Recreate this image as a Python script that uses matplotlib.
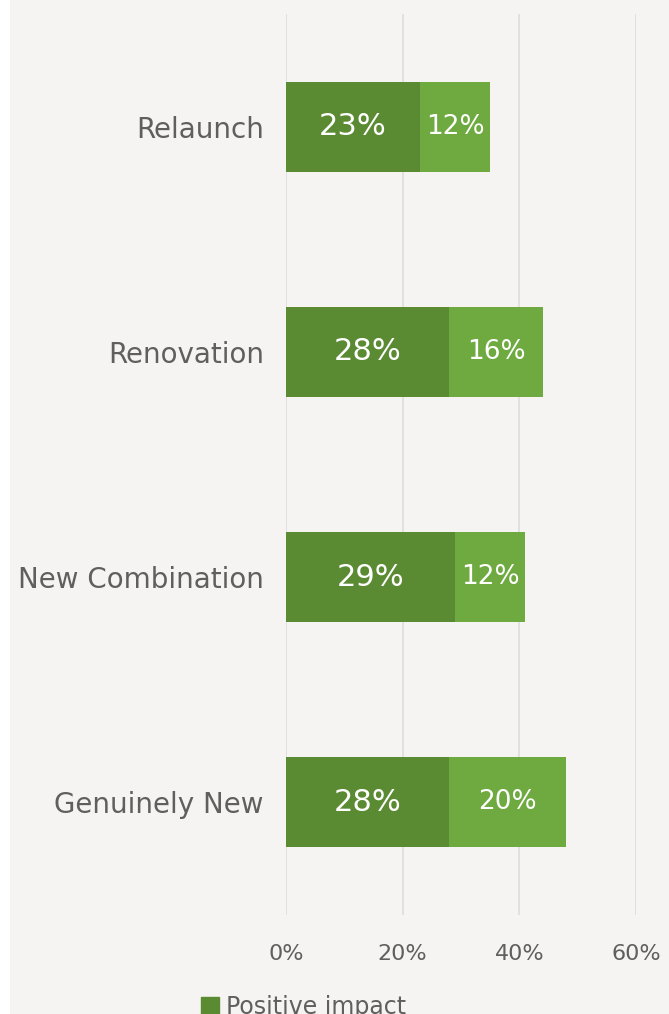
import matplotlib.pyplot as plt
from matplotlib.patches import Rectangle, Patch

categories = ['Relaunch', 'Renovation', 'New Combination', 'Genuinely New']
dark_vals = [23, 28, 29, 28]
light_vals = [12, 16, 12, 20]
ticks = [0, 20, 40, 60]

dark = '#5a8a32'
light = '#6eaa40'
bg = '#f5f4f2'
txt = '#5f5f5f'

plt.rcParams['font.family'] = ['DejaVu Sans']

fig = plt.figure(figsize=(6.69, 10.14), dpi=100)
fig.patch.set_facecolor(bg)
# white strip on left edge
fig.patches.append(Rectangle((0, 0), 10 / 669, 1, transform=fig.transFigure,
                             facecolor='white', edgecolor='none', zorder=0))

ax = fig.add_axes([286 / 669, 99 / 1014, 350 / 669, 901 / 1014])
ax.set_facecolor(bg)

y = list(range(len(categories)))
ax.barh(y, dark_vals, height=0.4, color=dark, zorder=3)
ax.barh(y, light_vals, left=dark_vals, height=0.4, color=light, zorder=3)

for i in y:
    ax.text(dark_vals[i] / 2, i, f'{dark_vals[i]}%', ha='center', va='center',
            color='white', fontsize=22, zorder=4)
    ax.text(dark_vals[i] + light_vals[i] / 2, i, f'{light_vals[i]}%', ha='center',
            va='center', color='white', fontsize=19, zorder=4)

ax.set_xlim(0, 60)
ax.set_ylim(3.5, -0.5)
ax.set_xticks(ticks)
ax.set_xticklabels([f'{t}%' for t in ticks])
ax.set_yticks(y)
ax.set_yticklabels(categories)
ax.tick_params(axis='x', length=0, pad=21, labelsize=16, labelcolor=txt)
ax.tick_params(axis='y', length=0, pad=16, labelsize=20, labelcolor=txt)
ax.grid(axis='x', color='#dcdcdc', linewidth=1.2, zorder=0)
for s in ax.spines.values():
    s.set_visible(False)

fig.legend(handles=[Patch(color=dark, label='Positive impact')],
           loc='upper left', bbox_to_anchor=(180 / 669, 40 / 1014),
           frameon=False, fontsize=17, labelcolor=txt,
           handlelength=0.75, handleheight=0.75, handletextpad=0.3)

fig.savefig('out.png', dpi=100, facecolor=bg)
